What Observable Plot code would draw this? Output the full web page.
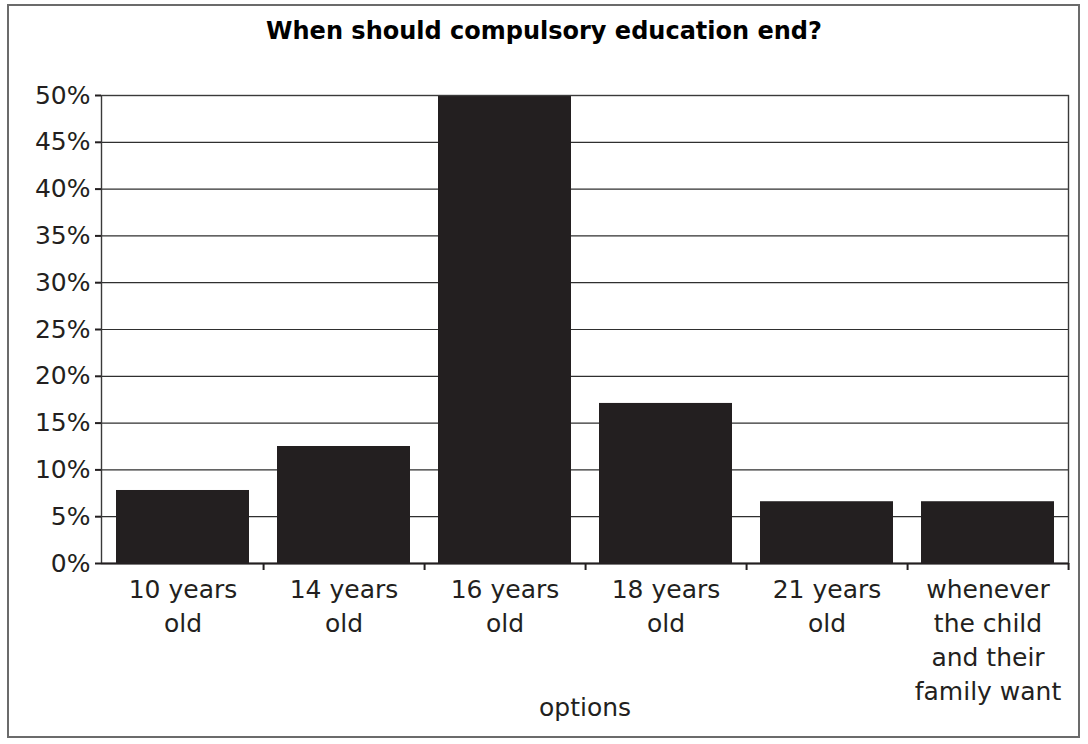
<!DOCTYPE html>
<html><head><meta charset="utf-8">
<script src="https://cdn.jsdelivr.net/npm/d3@7"></script>
<script src="https://cdn.jsdelivr.net/npm/@observablehq/plot@0.6"></script>
<style>
body{margin:0;background:#fff;font-family:"DejaVu Sans",sans-serif;}
#wrap{position:relative;width:1088px;height:744px;overflow:hidden;background:#fff}
#frame{position:absolute;left:7px;top:4px;width:1073px;height:734px;border:2px solid #6b6b6b;box-sizing:border-box;z-index:2;pointer-events:none}
#title{position:absolute;left:0;top:0;width:1088px;height:60px;line-height:62px;text-align:center;font-weight:bold;font-size:24px;color:#000;z-index:1}
#chart{position:absolute;left:0;top:60px}
</style></head><body>
<div id="wrap"><div id="frame"></div><div id="title"></div><div id="chart"></div></div>
<script>
const titleText = "When should compulsory education end?";
const categories = ["10 years\nold", "14 years\nold", "16 years\nold", "18 years\nold", "21 years\nold", "whenever\nthe child\nand their\nfamily want"];
const shares = [7.8, 12.5, 50, 17.1, 6.6, 6.6];
const yTicks = [0, 5, 10, 15, 20, 25, 30, 35, 40, 45, 50];
const xLabel = "options";

const data = categories.map((c, i) => ({cat: c, share: shares[i]}));

const W = 1088, H = 684, mL = 101, mR = 20, mT = 35, mB = 181;
const step = (W - mL - mR) / categories.length;
const ink = "#231f20";

document.getElementById("title").textContent = titleText;

const chart = Plot.plot({
  width: W, height: H,
  marginLeft: mL, marginRight: mR, marginTop: mT, marginBottom: mB,
  style: {fontFamily: "'DejaVu Sans', sans-serif", fontSize: "25px", color: ink, background: "white", overflow: "visible"},
  x: {type: "band", domain: categories, paddingInner: 0.175, paddingOuter: 0.0875, label: null},
  y: {domain: [0, 50], label: null},
  marks: [
    Plot.gridY(yTicks, {stroke: "#2f2f2f", strokeOpacity: 1, strokeWidth: 1.2}),
    Plot.barY(data, {x: "cat", y: "share", fill: ink}),
    Plot.frame({stroke: "#3a3a3a", strokeWidth: 1.4}),
    Plot.ruleY([0], {stroke: ink, strokeWidth: 2}),
    Plot.axisY({ticks: yTicks, tickFormat: d => d + "%", tickSize: 6, tickPadding: 5, fontSize: 25, stroke: ink, strokeWidth: 2, label: null}),
    Plot.axisX({tickSize: 7, tickFormat: () => "", dx: step / 2, stroke: ink, strokeWidth: 2, label: null}),
    Plot.axisX({tickSize: 0, tickPadding: 10, fontSize: 25, lineHeight: 1.36, label: xLabel, labelAnchor: "center", labelOffset: 152, labelArrow: "none"})
  ]
});
document.getElementById("chart").appendChild(chart);
</script>
</body></html>
